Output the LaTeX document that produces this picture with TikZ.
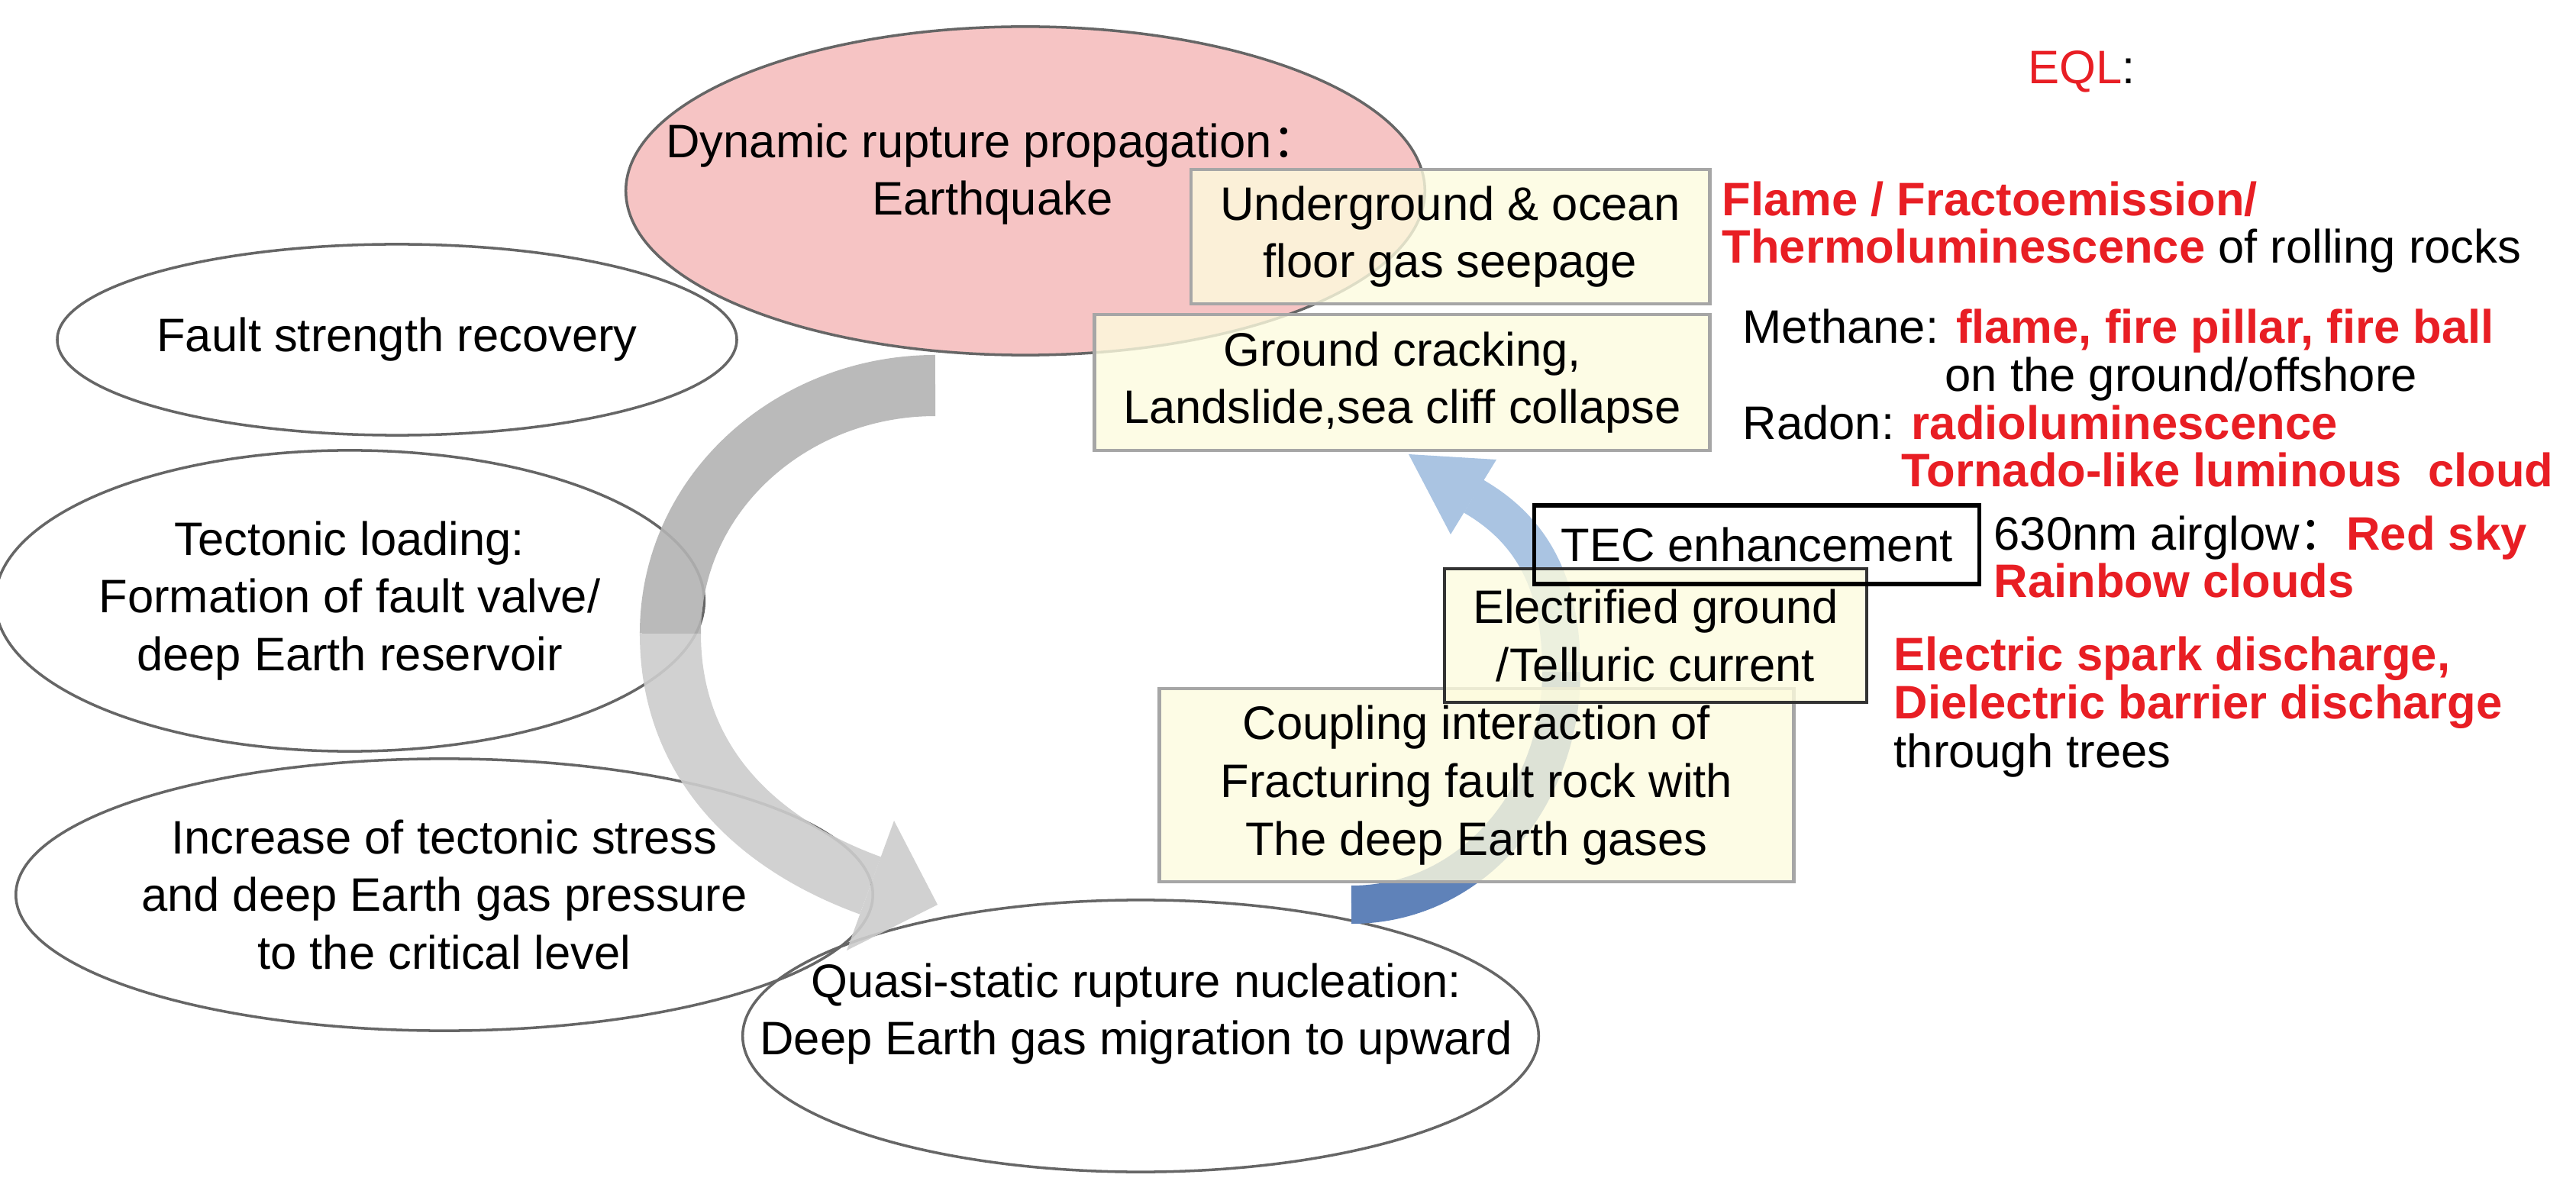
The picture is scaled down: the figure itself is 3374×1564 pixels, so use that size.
\documentclass[tikz,border=0pt]{standalone}
\usepackage{fontspec}
\setmainfont{Liberation Sans}
\newfontfamily\cjk{Noto Sans CJK SC}
\usetikzlibrary{shapes.geometric}
\definecolor{eqlred}{RGB}{232,30,36}
\definecolor{pinkfill}{RGB}{246,196,196}
\definecolor{boxfill}{RGB}{253,251,222}
\definecolor{bluelight}{RGB}{170,196,226}
\definecolor{bluedark}{RGB}{95,130,185}
\begin{document}
\begin{tikzpicture}[x=0.01cm,y=0.01cm,
  every node/.style={font=\fontsize{17.5}{21.5}\selectfont, align=center},
  ell/.style={ellipse, draw=gray!80!black, line width=1pt, inner sep=0pt},
  box/.style={draw=gray!70, line width=1.3pt, fill=boxfill, fill opacity=0.8, text opacity=1, inner sep=0pt},
  rt/.style={anchor=base west, inner sep=0pt, align=left}]
\useasboundingbox (0,0) rectangle (3374,-1564);
% ellipses
\node[ell, minimum width=8.34cm, minimum height=2.50cm] (fsr) at (520,-445) {Fault strength recovery};
\node[ell, minimum width=8.96cm, minimum height=3.94cm] (tl) at (458,-787) {Tectonic loading:\\Formation of fault valve/\\deep Earth reservoir};
\node[ell, minimum width=9.66cm, minimum height=3.56cm] (inc) at (582,-1172) {Increase of tectonic stress\\and deep Earth gas pressure\\to the critical level};
\node[ell, minimum width=10.42cm, minimum height=3.56cm] (qs) at (1494,-1357) {};
\node at (1488,-1328) {Quasi-static rupture nucleation:\\Deep Earth gas migration to upward};
\node[ell, fill=pinkfill, minimum width=10.46cm, minimum height=4.30cm] (dyn) at (1343,-250) {};
\node at (1300,-228) {Dynamic rupture propagation{\cjk ：}\\Earthquake};
% gray arrow
\coordinate (g0) at (1225,-505);
\coordinate (g1) at (878,-830);
\coordinate (g2) at (1140,-1160);
\draw[line width=0.8cm, gray!60, opacity=0.9] (g0) to[out=180,in=90] (g1);
\draw[line width=0.8cm, gray!40, opacity=0.9] (g1) to[out=-90,in=160] (g2);
\fill[gray!40, opacity=0.9] (1171,-1075) -- (1228,-1185) -- (1109,-1245) -- cycle;
% blue arrow
\coordinate (b0) at (1770,-1185);
\coordinate (b1) at (2045,-880);
\coordinate (b2) at (1930,-650);
\draw[line width=0.5cm, bluedark] (b0) to[out=0,in=-90] (b1);
\draw[line width=0.5cm, bluelight] (b1) to[out=90,in=-30] (b2);
\fill[bluelight] (1960,-602) -- (1845,-595) -- (1900,-700) -- cycle;
% boxes
\node[box, minimum width=6.79cm, minimum height=1.76cm] (ug) at (1899.5,-310) {Underground \& ocean\\floor gas seepage};
\node[box, minimum width=8.05cm, minimum height=1.78cm] (gc) at (1836.5,-501) {Ground cracking,\\Landslide,sea cliff collapse};
\node[box, minimum width=8.30cm, minimum height=2.53cm] (cp) at (1934,-1028.5) {Coupling interaction of\\Fracturing fault rock with\\The deep Earth gases};
\node[box, draw=gray!40!black, minimum width=5.53cm, minimum height=1.75cm] (el) at (2168.5,-832.5) {Electrified ground\\/Telluric current};
\node[draw=black, line width=1.5pt, minimum width=5.82cm, minimum height=1.03cm, inner sep=0pt] (tec) at (2301,-713.5) {TEC enhancement};
% right texts
\node[rt] (eql) at (2656,-110) {\textcolor{eqlred}{EQL}:};
\node[rt] (t1) at (2255,-283) {\textcolor{eqlred}{\bfseries Flame / Fractoemission/}};
\node[rt] (t2) at (2255,-345) {\textcolor{eqlred}{\bfseries Thermoluminescence} of rolling rocks};
\node[rt] (t3) at (2282,-450) {Methane: \textcolor{eqlred}{\bfseries flame, fire pillar, fire ball}};
\node[rt] (t4) at (2547,-513) {on the ground/offshore};
\node[rt] (t5) at (2282,-576) {Radon: \textcolor{eqlred}{\bfseries radioluminescence}};
\node[rt] (t6) at (2490,-638) {\textcolor{eqlred}{\bfseries Tornado-like luminous\ \ cloud}};
\node[rt] (t7) at (2611,-721) {630nm airglow{\cjk ：}\textcolor{eqlred}{\bfseries Red sky}};
\node[rt] (t8) at (2611,-783) {\textcolor{eqlred}{\bfseries Rainbow clouds}};
\node[rt] (t9) at (2480,-878) {\textcolor{eqlred}{\bfseries Electric spark discharge,}};
\node[rt] (t10) at (2480,-941) {\textcolor{eqlred}{\bfseries Dielectric barrier discharge}};
\node[rt] (t11) at (2480,-1005) {through trees};
\end{tikzpicture}
\end{document}
